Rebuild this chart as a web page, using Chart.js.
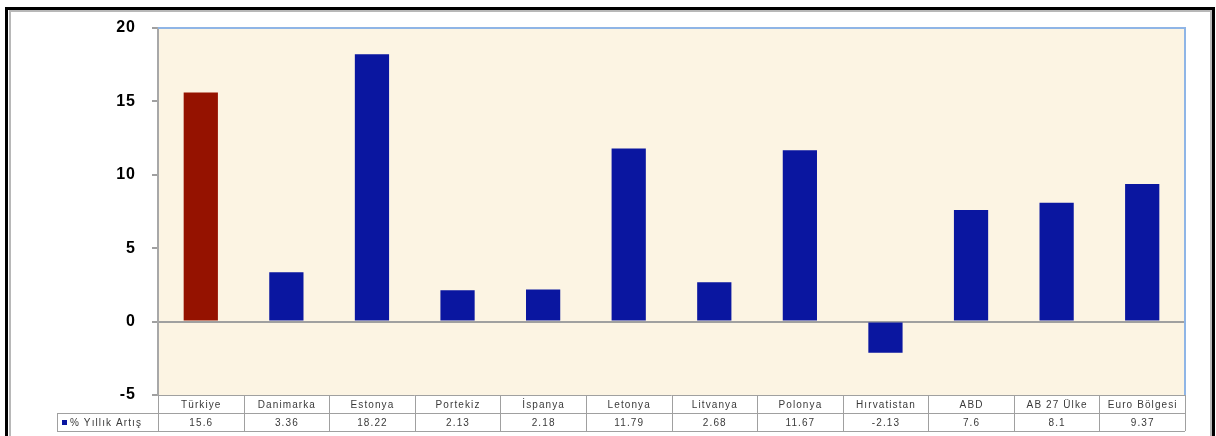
<!DOCTYPE html>
<html>
<head>
<meta charset="utf-8">
<script src="https://cdn.jsdelivr.net/npm/chart.js@4"></script>
<style>
  body { margin: 0; background: #fff; }
  #wrap { width: 1216px; height: 436px; position: relative; }
</style>
</head>
<body>
<div id="wrap"><canvas id="chartGrowth"></canvas></div>
<script>
// categories and yearly growth (%)
const countries = ['Türkiye', 'Danimarka', 'Estonya', 'Portekiz', 'İspanya', 'Letonya',
                   'Litvanya', 'Polonya', 'Hırvatistan', 'ABD', 'AB 27 Ülke', 'Euro Bölgesi'];
const growth = [15.6, 3.36, 18.22, 2.13, 2.18, 11.79, 2.68, 11.67, -2.13, 7.6, 8.1, 9.37];
const growthLabels = ['15.6', '3.36', '18.22', '2.13', '2.18', '11.79', '2.68', '11.67', '-2.13', '7.6', '8.1', '9.37'];
const seriesName = '% Yıllık Artış';
const yTicks = [-5, 0, 5, 10, 15, 20];

const RED = '#951200';
const BLUE = '#0a16a0';

// frame, plot background and the data table under the bars
const tablePlugin = {
    id: 'tablePlugin',
    beforeDraw(chart) {
        const c = chart.ctx;
        const a = chart.chartArea;
        c.save();
        c.fillStyle = '#ffffff';
        c.fillRect(0, 0, chart.width, chart.height);
        // outer frame
        c.strokeStyle = '#000';
        c.lineWidth = 3;
        c.beginPath();
        c.moveTo(6.5, 440); c.lineTo(6.5, 8.5); c.lineTo(1213.5, 8.5); c.lineTo(1213.5, 440);
        c.stroke();
        c.strokeStyle = '#b8b8b8';
        c.lineWidth = 2;
        c.beginPath();
        c.moveTo(10, 440); c.lineTo(10, 11); c.lineTo(1211, 11); c.lineTo(1211, 440);
        c.stroke();
        // plot background
        c.fillStyle = '#fcf4e3';
        c.fillRect(a.left, a.top, a.right - a.left, a.bottom - a.top);
        c.restore();
        // slightly wider tick labels, like the stretched original
        c.letterSpacing = '1px';
    },
    beforeDatasetsDraw(chart) {
        chart.ctx.letterSpacing = '0px';
    },
    afterDraw(chart) {
        const c = chart.ctx;
        const a = chart.chartArea;
        c.save();
        c.letterSpacing = '0px';
        // blue border top and right
        c.strokeStyle = '#8fb5e6';
        c.lineWidth = 2;
        c.beginPath();
        c.moveTo(a.left, a.top); c.lineTo(a.right, a.top); c.lineTo(a.right, a.bottom);
        c.stroke();

        const n = countries.length;
        const cw = (a.right - a.left) / n;
        const y0 = a.bottom, y1 = y0 + 18, y2 = y1 + 18;
        const legLeft = 57;

        c.strokeStyle = '#a0a0a0';
        c.lineWidth = 1;
        c.beginPath();
        c.moveTo(a.left, y0 + 0.5); c.lineTo(a.right, y0 + 0.5);
        c.moveTo(legLeft, y1 + 0.5); c.lineTo(a.right, y1 + 0.5);
        c.moveTo(legLeft, y2 + 0.5); c.lineTo(a.right, y2 + 0.5);
        c.moveTo(legLeft + 0.5, y1); c.lineTo(legLeft + 0.5, y2);
        for (let i = 0; i <= n; i++) {
            const x = Math.round(a.left + i * cw) + 0.5;
            c.moveTo(x, y0); c.lineTo(x, y2);
        }
        c.stroke();

        c.fillStyle = '#3a3a3a';
        c.font = '10px "Liberation Sans", Arial, sans-serif';
        c.letterSpacing = '1.1px';
        c.textAlign = 'center';
        c.textBaseline = 'middle';
        for (let i = 0; i < n; i++) {
            const cx = a.left + (i + 0.5) * cw + 0.5;
            c.fillText(countries[i], cx, (y0 + y1) / 2 + 1);
            c.fillText(growthLabels[i], cx, (y1 + y2) / 2 + 1);
        }
        // legend key
        c.fillStyle = BLUE;
        c.fillRect(legLeft + 5, (y1 + y2) / 2 - 2, 5, 5);
        c.fillStyle = '#3a3a3a';
        c.textAlign = 'left';
        c.fillText(seriesName, legLeft + 13, (y1 + y2) / 2 + 1);
        c.restore();
    }
};

const ctxGrowth = document.getElementById('chartGrowth').getContext('2d');
const growthChart = new Chart(ctxGrowth, {
    type: 'bar',
    data: {
        labels: countries,
        datasets: [{
            label: seriesName,
            data: growth,
            backgroundColor: growth.map((v, i) => i === 0 ? RED : BLUE),
            borderWidth: 0,
            barPercentage: 0.4,
            categoryPercentage: 1.0
        }]
    },
    options: {
        responsive: true,
        maintainAspectRatio: false,
        animation: false,
        layout: { padding: { left: 0, top: 28, right: 31, bottom: 41 } },
        plugins: {
            legend: { display: false },
            tooltip: { enabled: false }
        },
        scales: {
            x: { display: false },
            y: {
                min: yTicks[0],
                max: yTicks[yTicks.length - 1],
                afterFit(axis) { axis.width = 158; },
                afterBuildTicks(axis) { axis.ticks = yTicks.map(v => ({ value: v })); },
                ticks: {
                    color: '#000',
                    padding: 16,
                    font: { family: 'Arial, "Liberation Sans", sans-serif', size: 16, weight: 'bold' }
                },
                grid: {
                    color: (ctx) => ctx.tick && ctx.tick.value === 0 ? '#a0a0a0' : 'rgba(0,0,0,0)',
                    tickColor: '#a0a0a0',
                    tickLength: 6,
                    lineWidth: 2
                },
                border: { color: '#a8a8a8', width: 2 }
            }
        }
    },
    plugins: [tablePlugin]
});
</script>
</body>
</html>
